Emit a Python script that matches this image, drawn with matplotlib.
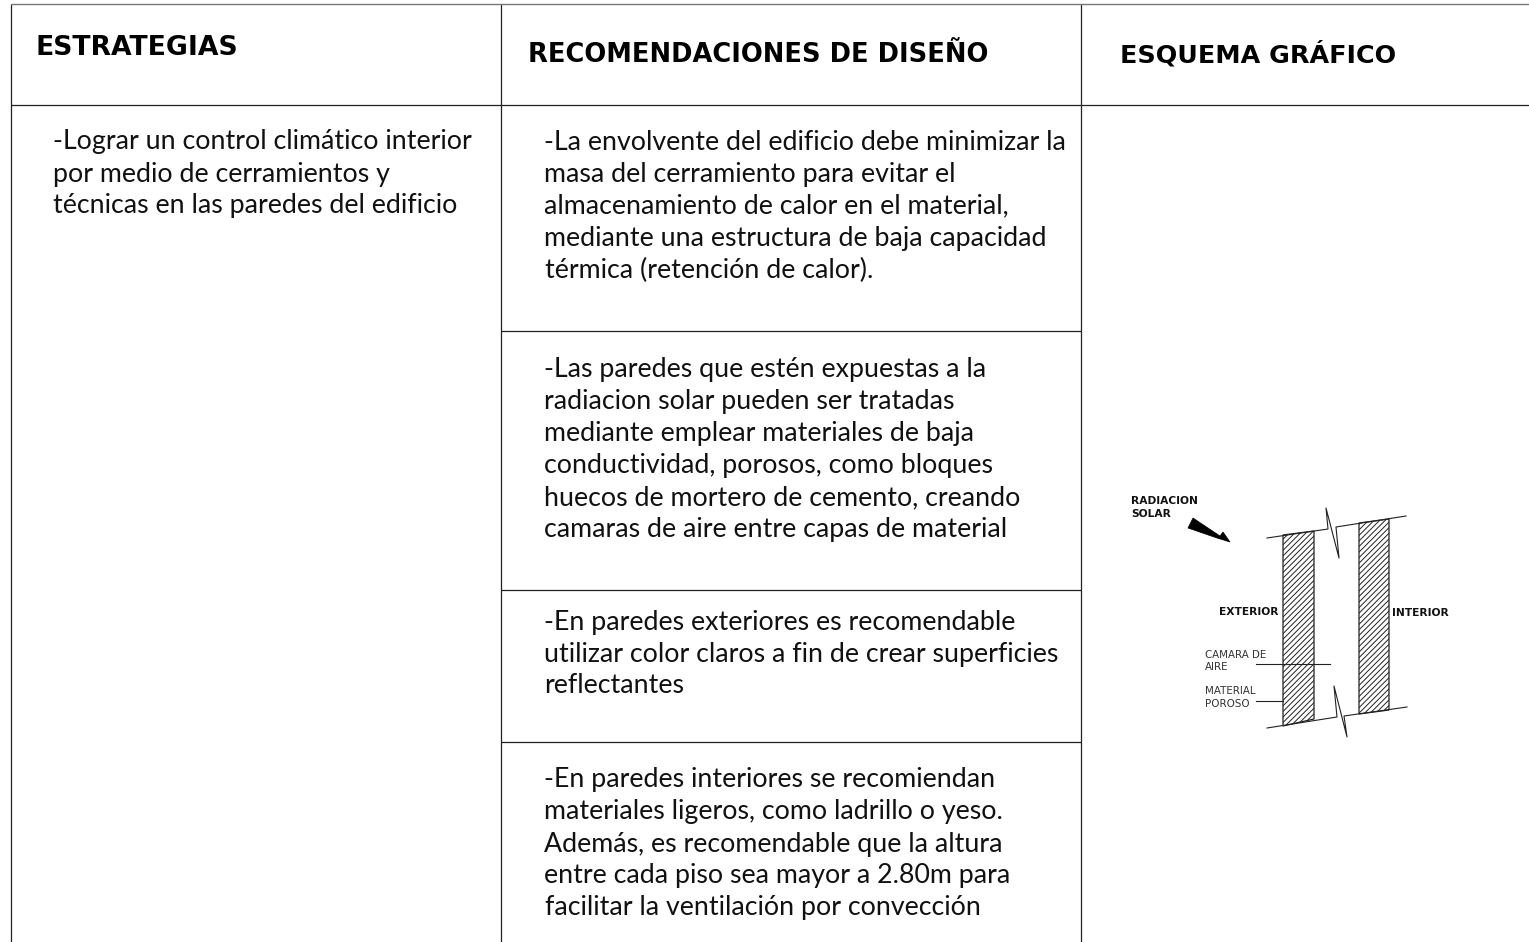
import matplotlib
matplotlib.use("Agg")
import matplotlib.pyplot as plt
from matplotlib.patches import Polygon

W, H = 1529, 942

headers = ["ESTRATEGIAS", "RECOMENDACIONES DE DISEÑO", "ESQUEMA GRÁFICO"]
header_x = [36, 528, 1120]
header_y = [55, 62, 62]
header_size = [19.2, 18.5, 18.3]

strategy_lines = ["-Lograr un control climático interior",
                  "por medio de cerramientos y",
                  "técnicas en las paredes del edificio"]
strategy_x = [53, 53, 53]
strategy_y = [149, 182, 213]

rec_lines = ["-La envolvente del edificio debe minimizar la",
             "masa del cerramiento para evitar el",
             "almacenamiento de calor en el material,",
             "mediante una estructura de baja capacidad",
             "térmica (retención de calor).",
             "-Las paredes que estén expuestas a la",
             "radiacion solar pueden ser tratadas",
             "mediante emplear materiales de baja",
             "conductividad, porosos, como bloques",
             "huecos de mortero de cemento, creando",
             "camaras de aire entre capas de material",
             "-En paredes exteriores es recomendable",
             "utilizar color claros a fin de crear superficies",
             "reflectantes",
             "-En paredes interiores se recomiendan",
             "materiales ligeros, como ladrillo o yeso.",
             "Además, es recomendable que la altura",
             "entre cada piso sea mayor a 2.80m para",
             "facilitar la ventilación por convección"]
rec_x = [544, 544, 544, 544, 545, 544, 544, 544, 544, 544, 544,
         544, 544, 544, 544, 544, 544, 544, 545]
rec_y = [150, 182, 213, 246, 278, 377, 409, 441, 473, 505, 537,
         630, 662, 693, 787, 819, 852, 883, 915]

# table rules (x0, x1, y0, y1)
rules = [(11, 1529, 105, 105),
         (11, 11, 4, 942), (501, 501, 4, 942), (1081, 1081, 4, 942),
         (501, 1081, 331, 331), (501, 1081, 590, 590), (501, 1081, 742, 742)]

# scheme drawing, pixel positions of the sketch
walls = [[(1283, 535), (1314, 531), (1314, 719), (1283, 726)],
         [(1359, 523), (1389, 519), (1389, 710), (1359, 714)]]
break_top = [(1267, 538), (1328, 529), (1326, 508), (1339, 558), (1336, 527), (1406, 516)]
break_bottom = [(1267, 728), (1337, 717), (1334, 686), (1347, 737), (1344, 716), (1407, 707)]
leaders = [[(1256, 664), (1330, 664)], [(1256, 701), (1283, 701)]]
arrow = [(1193, 518), (1188, 528), (1217, 538), (1230, 542), (1223, 532), (1220, 536)]

scheme_bold = [("RADIACION", 1131, 501), ("SOLAR", 1131, 514),
               ("EXTERIOR", 1219, 612), ("INTERIOR", 1392, 613)]
scheme_thin = [("CAMARA DE", 1205, 655), ("AIRE", 1205, 667),
               ("MATERIAL", 1205, 691), ("POROSO", 1205, 704)]

plt.rcParams["hatch.linewidth"] = 0.7

fig = plt.figure(figsize=(W / 100, H / 100), dpi=100)
ax = fig.add_axes([0, 0, 1, 1])
ax.set_xlim(0, W)
ax.set_ylim(H, 0)
ax.axis("off")

for x0, x1, y0, y1 in rules:
    ax.plot([x0, x1], [y0, y1], color="#222222", lw=0.9, solid_capstyle="butt")
ax.plot([11, 1529], [4, 4], color="#777777", lw=1.0, solid_capstyle="butt")

for t, x, y, s in zip(headers, header_x, header_y, header_size):
    ax.text(x, y, t, fontsize=s, fontweight="bold", family="DejaVu Sans",
            color="black", va="baseline", ha="left")

body = dict(fontsize=19.25, family="Lato", color="#111111", va="baseline", ha="left")
for t, x, y in zip(strategy_lines, strategy_x, strategy_y):
    ax.text(x, y, t, **body)
for t, x, y in zip(rec_lines, rec_x, rec_y):
    ax.text(x, y, t, **body)

for w in walls:
    ax.add_patch(Polygon(w, closed=True, facecolor="white", edgecolor="#222222",
                         hatch="//////", lw=0.9))
for line in [break_top, break_bottom] + leaders:
    ax.plot([p[0] for p in line], [p[1] for p in line], color="#222222", lw=0.8)
ax.add_patch(Polygon(arrow, closed=True, facecolor="black", edgecolor="black", lw=0.5))

for t, x, y in scheme_bold:
    ax.text(x, y, t, fontsize=7.7, fontweight="bold", family="DejaVu Sans",
            color="#111111", va="center", ha="left")
for t, x, y in scheme_thin:
    ax.text(x, y, t, fontsize=7.4, family="DejaVu Sans", color="#333333",
            va="center", ha="left")

fig.savefig("out.png", dpi=100, facecolor="white")
